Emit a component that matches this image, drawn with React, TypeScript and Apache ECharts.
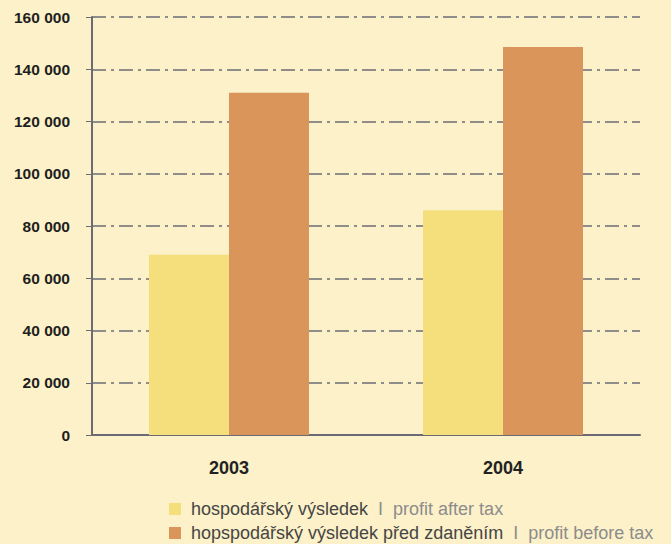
import React, { useEffect, useRef } from "react";
import * as echarts from "echarts";

const categories = ["2003", "2004"];
const profitAfterTax = [69000, 86000];
const profitBeforeTax = [131000, 148500];
const yTicks = [0, 20000, 40000, 60000, 80000, 100000, 120000, 140000, 160000];

const nameAfterCz = "hospodářský výsledek";
const nameAfterEn = "profit after tax";
const nameBeforeCz = "hopspodářský výsledek před zdaněním";
const nameBeforeEn = "profit before tax";

const fmt = (v: number) =>
  v === 0 ? "0" : String(v).replace(/\B(?=(\d{3})+(?!\d))/g, " ");

export default function App() {
  const ref = useRef<HTMLDivElement>(null);
  useEffect(() => {
    document.body.style.margin = "0";
    const chart = echarts.init(ref.current!, null, { renderer: "svg" });
    const gray = "#6b6b75";
    const ff = "Liberation Sans, Arial, sans-serif";
    chart.setOption({
      animation: false,
      backgroundColor: "#fcf1c8",
      textStyle: { fontFamily: ff },
      grid: { left: 92, right: 31, top: 17, bottom: 109, containLabel: false },
      xAxis: {
        type: "category",
        data: categories,
        axisLine: { show: true, lineStyle: { color: gray, width: 2 } },
        axisTick: { show: false },
        axisLabel: { color: "#222", fontSize: 18, fontWeight: "bold", margin: 24 },
      },
      yAxis: {
        type: "value",
        min: yTicks[0],
        max: yTicks[yTicks.length - 1],
        interval: 20000,
        axisLine: { show: true, lineStyle: { color: gray, width: 2 } },
        axisTick: { show: true, length: 6, lineStyle: { color: gray } },
        axisLabel: {
          color: "#1e1e1e",
          fontSize: 15.5,
          fontWeight: "bold",
          margin: 22,
          formatter: (v: number) => fmt(v),
        },
        splitLine: {
          show: true,
          lineStyle: { color: gray, width: 2, type: [14, 5, 3, 5], opacity: 0.75 },
        },
      },
      legend: {
        orient: "vertical",
        left: 169,
        top: 500,
        padding: 0,
        height: 46,
        itemWidth: 12,
        itemHeight: 12,
        itemGap: 6,
        icon: "rect",
        data: [nameAfterCz, nameBeforeCz],
        formatter: (name: string) =>
          name === nameAfterCz
            ? `{a| ${nameAfterCz}}{b|  I  ${nameAfterEn}}`
            : `{a| ${nameBeforeCz}}{b|  I  ${nameBeforeEn}}`,
        textStyle: {
          rich: {
            a: { color: "#454545", fontSize: 18, lineHeight: 20, fontFamily: ff },
            b: { color: "#8c8c8c", fontSize: 18, lineHeight: 20, fontFamily: ff },
          },
        },
      },
      series: [
        {
          name: nameAfterCz,
          type: "bar",
          data: profitAfterTax,
          barWidth: 80,
          barGap: "0%",
          itemStyle: { color: "#f5de7c" },
        },
        {
          name: nameBeforeCz,
          type: "bar",
          data: profitBeforeTax,
          barWidth: 80,
          itemStyle: { color: "#da955a" },
        },
      ],
    });
    return () => chart.dispose();
  }, []);
  return (
    <div
      ref={ref}
      style={{ position: "absolute", left: 0, top: 0, width: 671, height: 544 }}
    />
  );
}
